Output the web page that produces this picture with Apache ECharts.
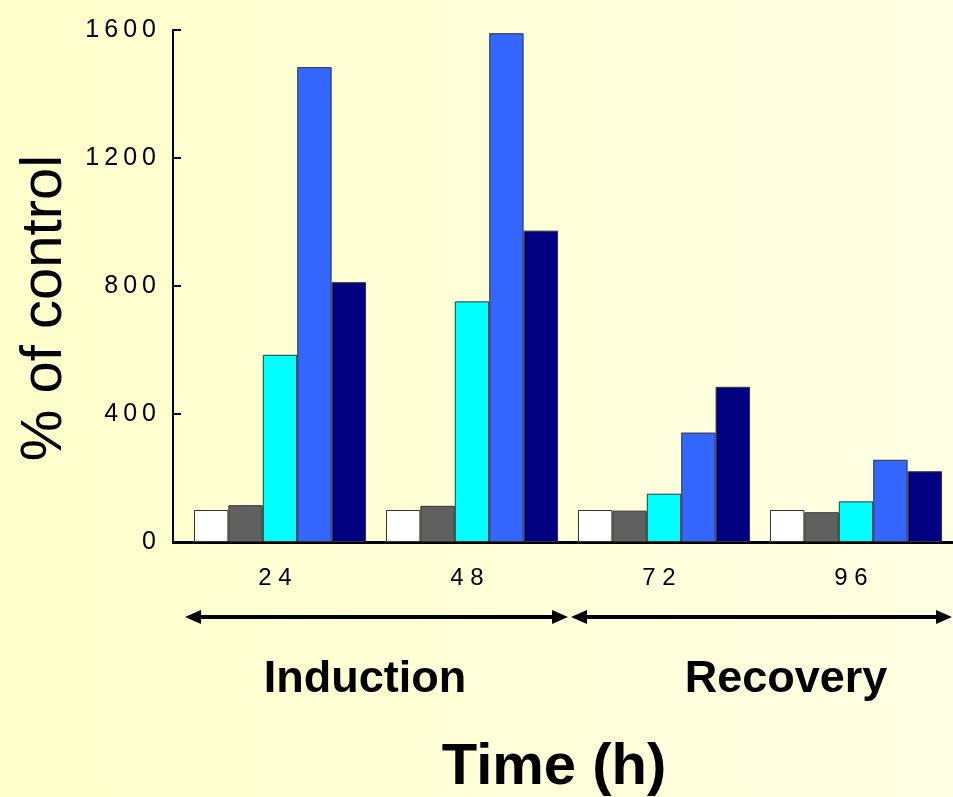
<!DOCTYPE html>
<html><head><meta charset="utf-8">
<script src="https://cdn.jsdelivr.net/npm/echarts@6/dist/echarts.min.js"></script>
<style>html,body{margin:0;padding:0;background:#FFFFD8;}#c{width:953px;height:797px;}</style>
</head><body><div id="c"></div>
<script>
// ---- data ----
const categories = ['24', '48', '72', '96'];
const yTicks = [0, 400, 800, 1200, 1600];
const whiteValues = [100, 100, 100, 100];
const grayValues = [115, 113, 98, 93];
const cyanValues = [585, 752, 151, 127];
const blueValues = [1484, 1590, 342, 257];
const navyValues = [812, 973, 485, 221];
const phaseLabels = ['Induction', 'Recovery'];
const yAxisTitle = '% of control';
const xAxisTitle = 'Time (h)';

// ---- styles ----
const seriesColors = ['#FFFFFF', '#606060', '#00FFFF', '#3366FF', '#000080'];
const seriesData = [whiteValues, grayValues, cyanValues, blueValues, navyValues];
const FONT = '"Liberation Sans", Arial, Helvetica, sans-serif';

const chart = echarts.init(document.getElementById('c'), null, {renderer: 'canvas'});

function arrow(x1, x2, y) {
  const h = 16, w = 7;
  return [
    {type: 'line', shape: {x1: x1 + h - 2, y1: y, x2: x2 - h + 2, y2: y}, style: {stroke: '#000', lineWidth: 4}},
    {type: 'polygon', shape: {points: [[x1, y], [x1 + h, y - w], [x1 + h, y + w]]}, style: {fill: '#000'}},
    {type: 'polygon', shape: {points: [[x2, y], [x2 - h, y - w], [x2 - h, y + w]]}, style: {fill: '#000'}}
  ];
}

const option = {
  animation: false,
  backgroundColor: {
    type: 'linear', x: 0, y: 0, x2: 1, y2: 0,
    colorStops: [{offset: 0, color: '#FFFFCC'}, {offset: 1, color: '#FFFFE4'}]
  },
  grid: {left: 184, right: 1, top: 30, bottom: 255, containLabel: false},
  xAxis: {
    type: 'category',
    data: categories,
    axisLine: {lineStyle: {color: '#000', width: 3}},
    axisTick: {show: false},
    axisLabel: {
      color: '#000', fontFamily: FONT, fontSize: 24, margin: 24,
      padding: [0, 10, 0, 0],
      formatter: v => v.split('').join(' ')
    }
  },
  yAxis: {
    type: 'value',
    min: yTicks[0], max: yTicks[yTicks.length - 1], interval: 400,
    offset: 11,
    name: yAxisTitle,
    nameLocation: 'middle',
    nameRotate: 90,
    nameGap: 97,
    nameTextStyle: {color: '#000', fontFamily: FONT, fontSize: 58, padding: [0, 44, 0, 0]},
    axisLine: {show: true, lineStyle: {color: '#000', width: 2}},
    axisTick: {show: true, inside: true, length: 8, lineStyle: {color: '#000', width: 2}},
    splitLine: {show: false},
    axisLabel: {
      color: '#000', fontFamily: FONT, fontSize: 25, margin: 17,
      padding: [0, 0, 9, 0],
      formatter: v => String(v).split('').join('\u2009')
    }
  },
  series: seriesData.map((d, i) => ({
    type: 'bar',
    data: d,
    barGap: '0%',
    barCategoryGap: '10.4%',
    itemStyle: {color: seriesColors[i], borderColor: '#333', borderWidth: 1}
  })),
  graphic: [
    {type: 'line', shape: {x1: 172, y1: 542.5, x2: 185, y2: 542.5}, style: {stroke: '#000', lineWidth: 3}},
    ...arrow(185, 568, 617),
    ...arrow(571, 952, 617),
    {type: 'text', x: 365, y: 680, style: {text: phaseLabels[0], font: 'bold 45px ' + FONT, fill: '#000', align: 'center', verticalAlign: 'middle'}},
    {type: 'text', x: 786, y: 680, style: {text: phaseLabels[1], font: 'bold 45px ' + FONT, fill: '#000', align: 'center', verticalAlign: 'middle'}},
    {type: 'text', x: 554, y: 768, style: {text: xAxisTitle, font: 'bold 58px ' + FONT, fill: '#000', align: 'center', verticalAlign: 'middle'}}
  ]
};
chart.setOption(option);
</script>
</body></html>
